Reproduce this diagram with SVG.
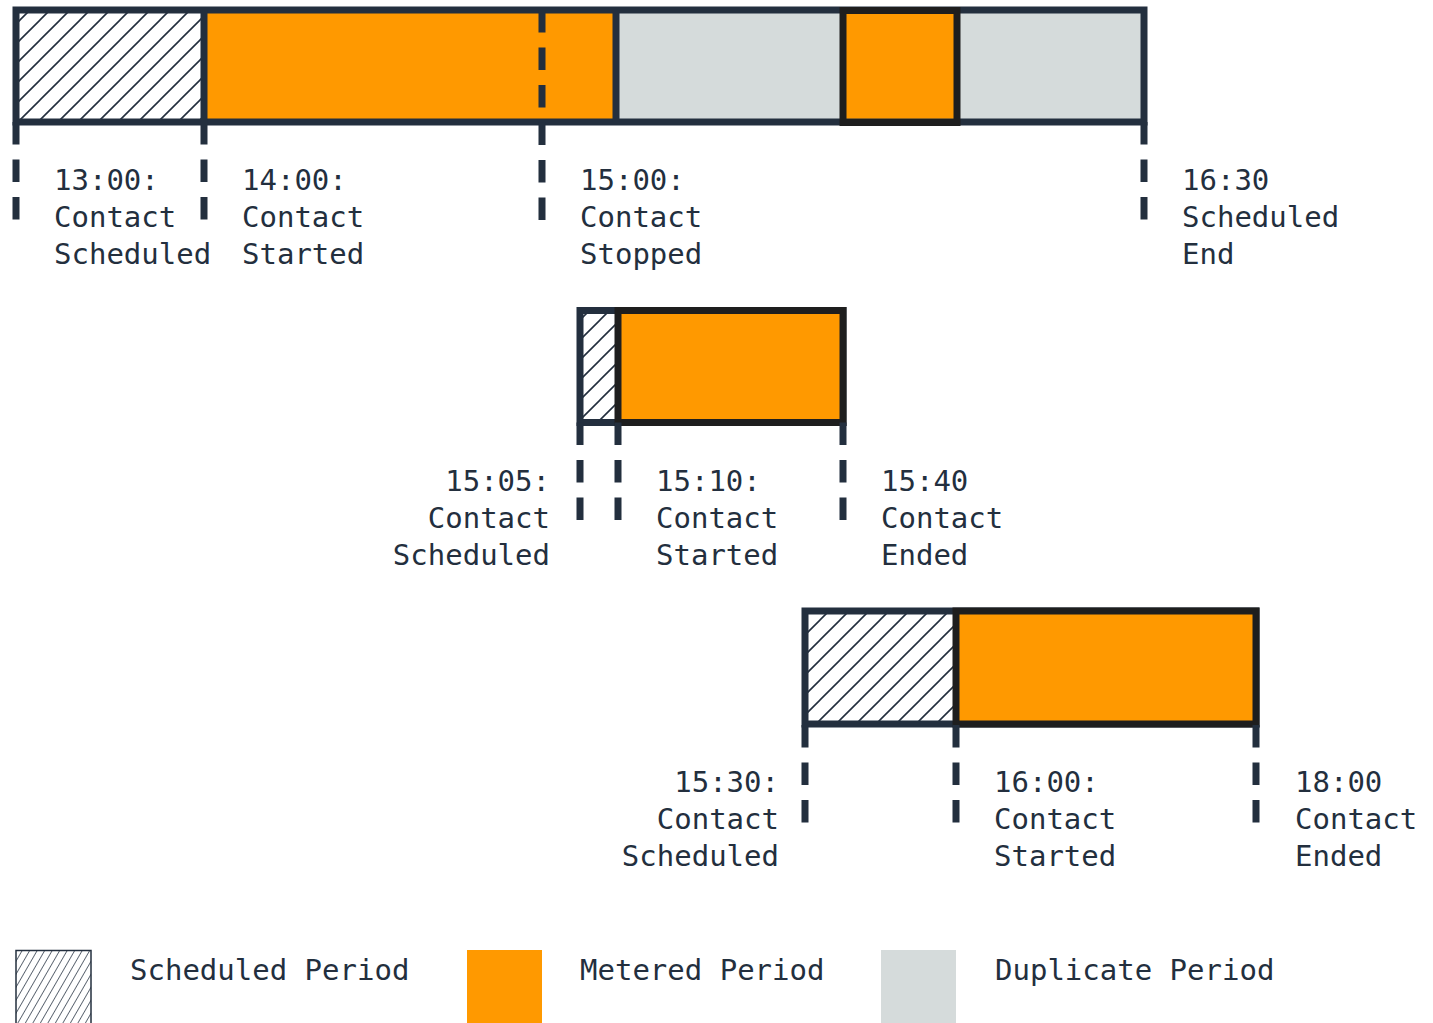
<svg xmlns="http://www.w3.org/2000/svg" width="1433" height="1023" viewBox="0 0 1433 1023">
<style>
.t{font-family:"DejaVu Sans Mono","Liberation Mono",monospace;font-size:29px;fill:#232f3e}
.e{text-anchor:end}
.nav{stroke:#232f3e;stroke-width:7;fill:none}
.dk{stroke:#1e1e1e;stroke-width:7}
.or{fill:#ff9900}
.gr{fill:#d5dbdb}
.tick{stroke:#232f3e;stroke-width:7;stroke-dasharray:22.5 15;fill:none}
</style>
<defs>
<pattern id="hatch" patternUnits="userSpaceOnUse" width="20" height="20">
<rect width="20" height="20" fill="#ffffff"/>
<path d="M-5,5 L5,-5 M0,20 L20,0 M15,25 L25,15" stroke="#232f3e" stroke-width="1.6"/>
</pattern>
<pattern id="hatchS" patternUnits="userSpaceOnUse" width="6.5" height="20" patternTransform="rotate(30)">
<rect width="6.5" height="20" fill="#ffffff"/>
<line x1="0" y1="0" x2="0" y2="20" stroke="#232f3e" stroke-width="1.4"/>
</pattern>
</defs>
<rect width="1433" height="1023" fill="#ffffff"/>

<g id="bar-top">
<rect x="16" y="10" width="188" height="112" fill="url(#hatch)"/>
<rect x="204" y="10" width="412" height="112" class="or"/>
<rect x="616" y="10" width="227" height="112" class="gr"/>
<rect x="843" y="10" width="114" height="112" class="or"/>
<rect x="957" y="10" width="187" height="112" class="gr"/>
<rect x="16" y="10" width="1128" height="112" class="nav"/>
<line x1="204" y1="10" x2="204" y2="122" class="nav"/>
<line x1="616" y1="10" x2="616" y2="122" class="nav"/>
<rect x="843" y="10.5" width="114" height="112" fill="none" class="dk"/>
</g>

<g id="bar-middle">
<rect x="580" y="310.5" width="38" height="112" fill="url(#hatch)"/>
<rect x="580" y="310.5" width="263" height="112" class="nav"/>
<rect x="618" y="310.5" width="225" height="112" class="or dk"/>
</g>

<g id="bar-bottom">
<rect x="805" y="611" width="151" height="113" fill="url(#hatch)"/>
<rect x="805" y="611" width="451" height="113" class="nav"/>
<rect x="956" y="611" width="300" height="113" class="or dk"/>
</g>

<g id="connectors">
<line x1="542" y1="10" x2="542" y2="220" class="tick"/>
<line x1="16" y1="122" x2="16" y2="220" class="tick"/>
<line x1="204" y1="122" x2="204" y2="220" class="tick"/>
<line x1="1144" y1="122" x2="1144" y2="220" class="tick"/>
<line x1="580" y1="422.5" x2="580" y2="521" class="tick"/>
<line x1="618" y1="422.5" x2="618" y2="521" class="tick"/>
<line x1="843" y1="422.5" x2="843" y2="521" class="tick"/>
<line x1="805" y1="725" x2="805" y2="823" class="tick"/>
<line x1="956" y1="725" x2="956" y2="823" class="tick"/>
<line x1="1256" y1="725" x2="1256" y2="823" class="tick"/>
</g>

<g id="label-1300">
<text class="t" x="54" y="190">13:00:</text>
<text class="t" x="54" y="227">Contact</text>
<text class="t" x="54" y="264">Scheduled</text>
</g>
<g id="label-1400">
<text class="t" x="242" y="190">14:00:</text>
<text class="t" x="242" y="227">Contact</text>
<text class="t" x="242" y="264">Started</text>
</g>
<g id="label-1500">
<text class="t" x="580" y="190">15:00:</text>
<text class="t" x="580" y="227">Contact</text>
<text class="t" x="580" y="264">Stopped</text>
</g>
<g id="label-1630">
<text class="t" x="1182" y="190">16:30</text>
<text class="t" x="1182" y="227">Scheduled</text>
<text class="t" x="1182" y="264">End</text>
</g>

<g id="label-1505">
<text class="t e" x="550" y="491">15:05:</text>
<text class="t e" x="550" y="528">Contact</text>
<text class="t e" x="550" y="565">Scheduled</text>
</g>
<g id="label-1510">
<text class="t" x="656" y="491">15:10:</text>
<text class="t" x="656" y="528">Contact</text>
<text class="t" x="656" y="565">Started</text>
</g>
<g id="label-1540">
<text class="t" x="881" y="491">15:40</text>
<text class="t" x="881" y="528">Contact</text>
<text class="t" x="881" y="565">Ended</text>
</g>

<g id="label-1530">
<text class="t e" x="779" y="792">15:30:</text>
<text class="t e" x="779" y="829">Contact</text>
<text class="t e" x="779" y="866">Scheduled</text>
</g>
<g id="label-1600">
<text class="t" x="994" y="792">16:00:</text>
<text class="t" x="994" y="829">Contact</text>
<text class="t" x="994" y="866">Started</text>
</g>
<g id="label-1800">
<text class="t" x="1295" y="792">18:00</text>
<text class="t" x="1295" y="829">Contact</text>
<text class="t" x="1295" y="866">Ended</text>
</g>

<g id="legend-scheduled">
<rect x="16" y="950.5" width="75" height="80" fill="url(#hatchS)" stroke="#232f3e" stroke-width="1.5"/>
<text class="t" x="130" y="980">Scheduled Period</text>
</g>
<g id="legend-metered">
<rect x="467" y="950" width="75" height="80" class="or"/>
<text class="t" x="580" y="980">Metered Period</text>
</g>
<g id="legend-duplicate">
<rect x="881" y="950" width="75" height="80" class="gr"/>
<text class="t" x="995" y="980">Duplicate Period</text>
</g>
</svg>
